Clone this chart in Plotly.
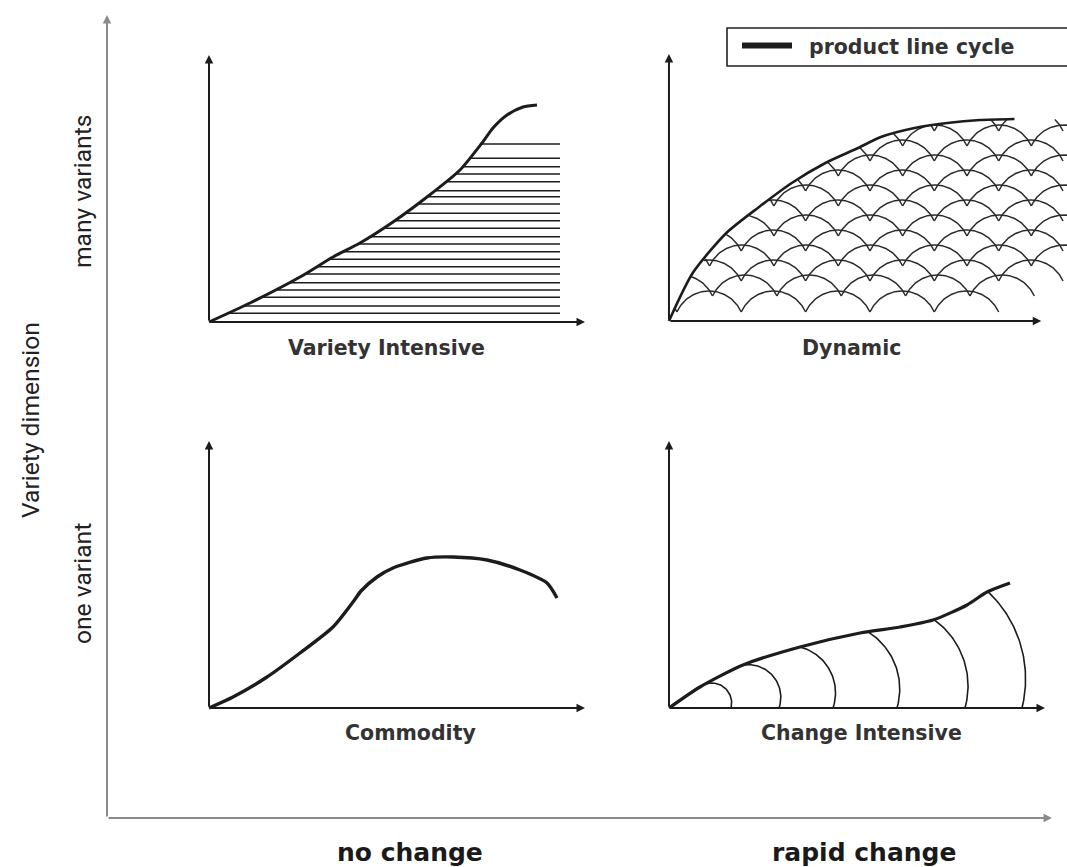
import numpy as np
import plotly.graph_objects as go

W, H = 1067, 867
INK = "#1c1c1c"
GREY = "#8c8c8c"

# ---------------- data (local units of each small chart: time -> , volume ^) ----------------
# Variety Intensive: product line cycle and the variants stacked underneath
vi_x = [0, 41, 91, 124, 151, 184, 218, 251, 273, 284, 298, 314, 328]
vi_y = [0, 19, 45, 65, 79, 100, 125, 152, 179, 194, 207, 215, 217]
vi_hatch_y = [178, 163.7, 155.3, 148, 140.3, 131.3, 125.3, 118, 108.7, 101.3, 93.7,
              85.3, 78, 70.3, 62.7, 55.3, 48, 39.3, 32, 24.7, 16, 8.7]
vi_hatch_end = 351

# Dynamic: envelope and the many short cycles ("scales")
dy_x = [0, 24, 58, 91, 124, 158, 191, 214, 248, 281, 314, 349]
dy_y = [0, 48, 88, 114, 138, 158, 173, 184, 193, 198, 201, 202]
dy_row_base = [9, 25, 40, 55, 70, 85, 100, 115, 130, 145, 160, 175, 190]
dy_row_end = [333, 369, 398, 431, 398, 431, 398, 431, 398, 431, 398, 431, 398]
dy_scale_width = 65
dy_scale_rise = 21

# Commodity
cm_x = [0, 24, 58, 91, 124, 144, 152, 168, 184, 218, 244, 278, 311, 338, 348]
cm_y = [0, 11, 31, 55, 81, 106, 117, 131, 140, 150, 151, 148, 138, 125, 110]

# Change Intensive
ci_x = [0, 31, 74, 131, 191, 231, 264, 298, 318, 341]
ci_y = [0, 21, 43, 61, 75, 81, 88, 103, 116, 125]
ci_arc_start = [30, 74, 131, 199, 265, 319]
ci_arc_end = [62, 110, 164, 228, 296, 353]

panel_titles = ["Variety Intensive", "Dynamic", "Commodity", "Change Intensive"]
x_labels = ["no change", "rapid change"]
y_labels = ["one variant", "many variants"]
y_title = "Variety dimension"
legend_name = "product line cycle"

# ---------------- geometry ----------------
PW, PH, PAD = 376, 267, 4
panels = [  # axis suffix, pixel origin, extra room on the right
    ("", 209, 322, 0),
    ("2", 669, 321, 22),
    ("3", 209, 708, 0),
    ("4", 669, 708, 0),
]

fig = go.Figure()

def line(sfx, x, y, width, spline=False, color=INK):
    fig.add_trace(go.Scatter(
        x=x, y=y, xaxis="x" + sfx, yaxis="y" + sfx, mode="lines",
        line=dict(color=color, width=width, shape="spline" if spline else "linear",
                  smoothing=0.7),
        showlegend=False, hoverinfo="skip", connectgaps=False))

# Variety Intensive
hx, hy = [], []
for yv in vi_hatch_y:
    hx += [float(np.interp(yv, vi_y, vi_x)), vi_hatch_end, None]
    hy += [yv, yv, None]
line("", hx, hy, 1.6)
line("", vi_x, vi_y, 3, spline=True)

# Dynamic scales
S, h = dy_scale_width, dy_scale_rise
r = (S * S / 4 + h * h) / (2 * h)
th0 = np.arcsin((r - h) / r)
theta = np.linspace(th0, np.pi - th0, 70)
sx, sy = [], []
for base, end in zip(dy_row_base, dy_row_end):
    c = end
    while c > 0:
        cx = c - S / 2
        cy = base + h - r
        px = cx + r * np.cos(theta)
        py = cy + r * np.sin(theta)
        env = np.interp(px, dy_x, dy_y)
        ok = (py <= env) & (px >= 0)
        for a, b, k in zip(px, py, ok):
            sx.append(float(a) if k else None)
            sy.append(float(b) if k else None)
        sx.append(None); sy.append(None)
        c -= S
line("2", sx, sy, 1.5, color="#2a2a2a")
line("2", dy_x, dy_y, 2.6, spline=True)

# Commodity
line("3", cm_x, cm_y, 3.4, spline=True)

# Change Intensive: each variant cycle is a circular arc from the envelope to the axis
ax_, ay_ = [], []
for xs, xe in zip(ci_arc_start, ci_arc_end):
    ys = float(np.interp(xs, ci_x, ci_y))
    yc = 0.25 * ys
    dx = xe - xs
    d = ((ys - yc) ** 2 - yc ** 2 - dx ** 2) / (2 * dx)   # xs - centre_x
    cx = xs - d
    R = np.hypot(d, ys - yc)
    t0 = np.arctan2(ys - yc, d)
    t1 = -np.arcsin(yc / R)
    t = np.linspace(t0, t1, 60)
    ax_ += list(cx + R * np.cos(t)) + [None]
    ay_ += list(yc + R * np.sin(t)) + [None]
line("4", ax_, ay_, 1.6)
line("4", ci_x, ci_y, 3.2, spline=True)

layout = dict(
    width=W, height=H, margin=dict(l=0, r=0, t=0, b=0),
    paper_bgcolor="white", plot_bgcolor="rgba(0,0,0,0)",
    showlegend=False,
)
ann = []
def arrow(sfx, x, y, ax, ay, color, width):
    ann.append(dict(x=x, y=y, ax=ax, ay=ay, xref="x" + sfx, yref="y" + sfx,
                    axref="x" + sfx, ayref="y" + sfx, text="", showarrow=True,
                    arrowhead=2, arrowsize=0.85, arrowwidth=width, arrowcolor=color,
                    standoff=0, startstandoff=0))

for sfx, ox, oy, extra in panels:
    layout["xaxis" + sfx] = dict(domain=[(ox - PAD) / W, min(1.0, (ox + PW + PAD + extra) / W)],
                                 range=[-PAD, PW + PAD + extra], visible=False,
                                 anchor="y" + sfx, fixedrange=True)
    layout["yaxis" + sfx] = dict(domain=[1 - (oy + PAD) / H, 1 - (oy - PH - PAD) / H],
                                 range=[-PAD, PH + PAD], visible=False,
                                 anchor="x" + sfx, fixedrange=True)
    arrow(sfx, PW, 0, 0, 0, INK, 2)
    arrow(sfx, 0, PH, 0, 0, INK, 2)

# outer frame axes
layout["xaxis5"] = dict(domain=[107 / W, 1052 / W], range=[0, 1], visible=False,
                        anchor="y5", fixedrange=True)
layout["yaxis5"] = dict(domain=[1 - 818 / H, 1 - 15 / H], range=[0, 1], visible=False,
                        anchor="x5", fixedrange=True)
arrow("5", 1, 0, 0, 0, GREY, 2)
arrow("5", 0, 1, 0, 0, GREY, 2)

def label(text, px, py, size, bold=True, angle=0, family="DejaVu Sans", color="#333",
          anchor="center"):
    ann.append(dict(x=px / W, y=1 - py / H, xref="paper", yref="paper", text=text,
                    showarrow=False, textangle=angle, xanchor=anchor, yanchor="middle",
                    font=dict(family=family, size=size, color=color,
                              weight="bold" if bold else "normal")))

label(panel_titles[0], 386, 348, 20.5)
label(panel_titles[1], 851, 348, 20.5)
label(panel_titles[2], 410, 733, 20.5)
label(panel_titles[3], 861, 733, 20.5)
label(x_labels[0], 410, 852, 25, color="#1a1a1a")
label(x_labels[1], 864, 852, 25, color="#1a1a1a")
label(y_title, 30, 420, 24.6, bold=False, angle=-90, family="Roboto", color="#222")
label(y_labels[1], 82, 192, 24.6, bold=False, angle=-90, family="Roboto", color="#222")
label(y_labels[0], 82, 584, 24.6, bold=False, angle=-90, family="Roboto", color="#222")

# legend (box, key line and text)
label(legend_name, 807, 47, 20.5, anchor="left")
layout["shapes"] = [
    dict(type="rect", xref="paper", yref="paper", x0=727 / W, x1=1075 / W,
         y0=1 - 66 / H, y1=1 - 28 / H, line=dict(color="#222", width=1.6),
         fillcolor="white", layer="below"),
    dict(type="line", xref="paper", yref="paper", x0=742 / W, x1=792 / W,
         y0=1 - 45.5 / H, y1=1 - 45.5 / H, line=dict(color=INK, width=6)),
]

layout["annotations"] = ann
fig.update_layout(**layout)
fig.write_html("out.html", post_script="document.body.style.margin='0px';",
               config={"displayModeBar": False})
